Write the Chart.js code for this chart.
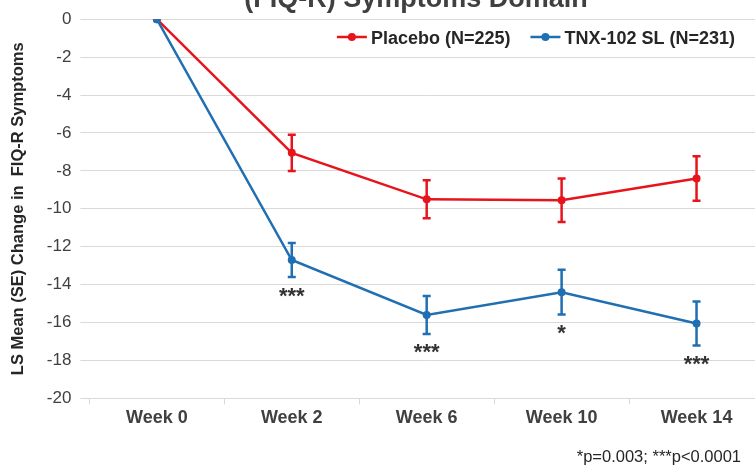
<!DOCTYPE html>
<html>
<head>
<meta charset="utf-8">
<script src="https://cdn.jsdelivr.net/npm/chart.js@4.4.1/dist/chart.umd.min.js"></script>
<style>
html, body { margin: 0; padding: 0; background: #fff; overflow: hidden; }
#wrap { width: 768px; height: 470px; position: relative; }
</style>
</head>
<body>
<div id="wrap"><canvas id="fiq-chart"></canvas></div>
<script>
var weeks = ['Week 0', 'Week 2', 'Week 6', 'Week 10', 'Week 14'];
var placebo = [0, -7.05, -9.5, -9.55, -8.4];
var placeboSE = [0, 0.95, 1.0, 1.15, 1.17];
var tnx = [0, -12.7, -15.6, -14.4, -16.05];
var tnxSE = [0, 0.9, 1.0, 1.18, 1.16];
var sigMarks = ['', '***', '***', '*', '***'];
var footnote = '*p=0.003; ***p<0.0001';
var chartTitle = '(FIQ-R) Symptoms Domain';

var RED = '#e8141c';
var BLUE = '#1f6fb2';
var FONT = "'Liberation Sans', Arial, sans-serif";
Chart.defaults.font.family = FONT;

// error bars + significance stars
var errorBars = {
    id: 'errorBars',
    afterDatasetsDraw: function(chart) {
        var ctx = chart.ctx, y = chart.scales.y;
        chart.data.datasets.forEach(function(ds, i) {
            var meta = chart.getDatasetMeta(i);
            meta.data.forEach(function(pt, j) {
                var se = ds.se[j];
                if (!se) return;
                var top = y.getPixelForValue(ds.data[j] + se);
                var bot = y.getPixelForValue(ds.data[j] - se);
                ctx.save();
                ctx.strokeStyle = ds.borderColor;
                ctx.lineWidth = 2.5;
                ctx.beginPath();
                ctx.moveTo(pt.x, top); ctx.lineTo(pt.x, bot);
                ctx.moveTo(pt.x - 4, top); ctx.lineTo(pt.x + 4, top);
                ctx.moveTo(pt.x - 4, bot); ctx.lineTo(pt.x + 4, bot);
                ctx.stroke();
                if (ds.marks && ds.marks[j]) {
                    ctx.fillStyle = '#333';
                    ctx.font = 'bold 22px ' + FONT;
                    ctx.textAlign = 'center';
                    ctx.textBaseline = 'alphabetic';
                    ctx.fillText(ds.marks[j], pt.x, bot + 13 + 12.5);
                }
                ctx.restore();
            });
        });
    }
};

// title (cut off at top), legend, footnote
var extras = {
    id: 'extras',
    afterDraw: function(chart) {
        var ctx = chart.ctx;
        ctx.save();
        ctx.fillStyle = '#404040';
        ctx.font = 'bold 27px ' + FONT;
        ctx.textAlign = 'center';
        ctx.textBaseline = 'alphabetic';
        ctx.fillText(chartTitle, 416, 7);

        ctx.font = 'bold 18px ' + FONT;
        ctx.textAlign = 'left';
        ctx.textBaseline = 'middle';
        var ds = chart.data.datasets;
        var order = [0, 1];
        var total = 0;
        order.forEach(function(k, n) {
            total += 34 + ctx.measureText(ds[k].label).width + (n < order.length - 1 ? 20 : 0);
        });
        var x = 735 - total, ly = 37;
        order.forEach(function(k) {
            ctx.strokeStyle = ds[k].borderColor;
            ctx.lineWidth = 2.5;
            ctx.beginPath();
            ctx.moveTo(x, ly); ctx.lineTo(x + 30, ly);
            ctx.stroke();
            ctx.fillStyle = ds[k].borderColor;
            ctx.beginPath();
            ctx.arc(x + 15, ly, 4, 0, Math.PI * 2);
            ctx.fill();
            ctx.fillStyle = '#262626';
            ctx.fillText(ds[k].label, x + 34, ly + 2);
            x += 34 + ctx.measureText(ds[k].label).width + 20;
        });

        ctx.font = '16.5px ' + FONT;
        ctx.textAlign = 'right';
        ctx.textBaseline = 'alphabetic';
        ctx.fillStyle = '#262626';
        ctx.fillText(footnote, 741, 462);
        ctx.restore();
    }
};

var ctx = document.getElementById('fiq-chart').getContext('2d');
var myChart = new Chart(ctx, {
    type: 'line',
    data: {
        labels: weeks,
        datasets: [{
            label: 'Placebo (N=225)',
            data: placebo,
            se: placeboSE,
            borderColor: RED,
            backgroundColor: RED,
            pointBackgroundColor: RED,
            borderWidth: 2.5,
            pointRadius: 4,
            pointBorderWidth: 0,
            order: 1
        }, {
            label: 'TNX-102 SL (N=231)',
            data: tnx,
            se: tnxSE,
            marks: sigMarks,
            borderColor: BLUE,
            backgroundColor: BLUE,
            pointBackgroundColor: BLUE,
            borderWidth: 2.5,
            pointRadius: 4,
            pointBorderWidth: 0,
            order: 0
        }]
    },
    options: {
        responsive: true,
        maintainAspectRatio: false,
        animation: false,
        layout: { padding: { left: 9, right: 0, top: 9, bottom: 38 } },
        plugins: {
            legend: { display: false },
            tooltip: { enabled: false }
        },
        scales: {
            x: {
                offset: true,
                grid: { offset: true, drawOnChartArea: false, tickLength: 6, color: '#d9d9d9' },
                border: { display: true, color: '#d9d9d9' },
                ticks: { color: '#404040', font: { size: 18, weight: 'bold' }, padding: 3 }
            },
            y: {
                min: -20,
                max: 0,
                ticks: { stepSize: 2, color: '#404040', font: { size: 17 }, padding: 9 },
                grid: { color: '#d9d9d9', tickLength: 9 },
                border: { display: false },
                title: {
                    display: true,
                    text: 'LS Mean (SE) Change in  FIQ-R Symptoms',
                    color: '#262626',
                    font: { size: 16.5, weight: 'bold' },
                    padding: { top: 0, bottom: 9 }
                }
            }
        }
    },
    plugins: [errorBars, extras]
});
</script>
</body>
</html>
